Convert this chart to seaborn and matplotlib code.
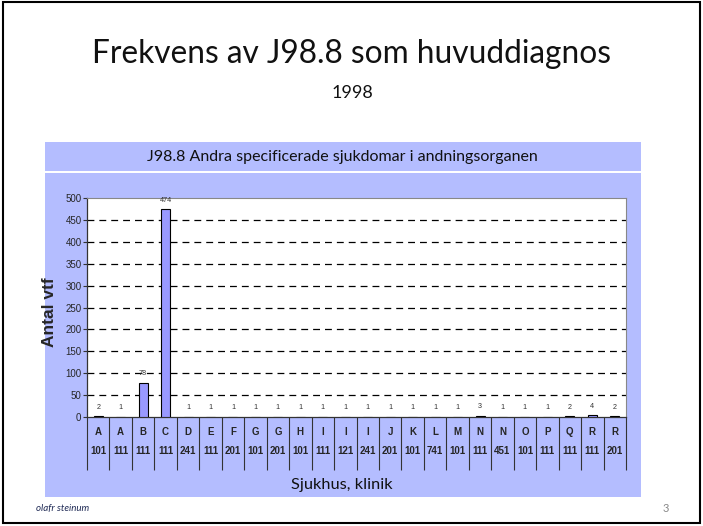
import pandas as pd
import matplotlib.pyplot as plt
import seaborn as sns
from matplotlib.patches import Rectangle

# Data
letters = ['A', 'A', 'B', 'C', 'D', 'E', 'F', 'G', 'G', 'H', 'I', 'I', 'I',
           'J', 'K', 'L', 'M', 'N', 'N', 'O', 'P', 'Q', 'R', 'R']
codes = ['101', '111', '111', '111', '241', '111', '201', '101', '201', '101',
         '111', '121', '241', '201', '101', '741', '101', '111', '451', '101',
         '111', '111', '111', '201']
counts = [2, 1, 78, 474, 1, 1, 1, 1, 1, 1, 1, 1, 1, 1, 1, 1, 1, 3, 1, 1, 1, 2, 4, 2]

df = pd.DataFrame({'klinik': [l + ' ' + c for l, c in zip(letters, codes)],
                   'antal': counts})

sns.set_theme(style="white")
plt.rcParams['font.family'] = ['Liberation Sans', 'DejaVu Sans']

W, H = 703, 526
fig = plt.figure(figsize=(W / 100, H / 100), dpi=100)
fig.patch.set_facecolor('white')

panel = '#B4BDFF'


def box(x0, y0, x1, y1, **kw):
    fig.add_artist(Rectangle((x0 / W, 1 - y1 / H), (x1 - x0) / W, (y1 - y0) / H,
                             transform=fig.transFigure, zorder=-5, **kw))


# slide frame and chart panel
box(3, 2, 700, 523, facecolor='none', edgecolor='black', linewidth=1.5)
box(45, 142, 641, 171, facecolor=panel, edgecolor='none')
box(45, 173, 641, 497, facecolor=panel, edgecolor='none')

# slide texts
fig.text(352 / W, 1 - 54 / H, 'Frekvens av J98.8 som huvuddiagnos', ha='center', va='center',
         fontsize=22.8, family='Lato', color='#111111')
fig.text(352 / W, 1 - 93 / H, '1998', ha='center', va='center', fontsize=13,
         family='Lato', color='#111111')
fig.text(342 / W, 1 - 157 / H, 'J98.8 Andra specificerade sjukdomar i andningsorganen',
         ha='center', va='center', fontsize=11.5, family='Lato', color='#111111')
fig.text(342 / W, 1 - 485 / H, 'Sjukhus, klinik', ha='center', va='center',
         fontsize=11.8, family='Lato', color='#111111')
fig.text(36 / W, 1 - 508 / H, 'olafr steinum', ha='left', va='center', fontsize=7,
         style='italic', family='Lato', color='#1F2A55')
fig.text(666 / W, 1 - 508 / H, '3', ha='center', va='center', fontsize=8,
         family='Lato', color='#888888')

# plot area
x0, x1, ytop, ybot = 87, 626, 198, 417
ax = fig.add_axes([x0 / W, 1 - ybot / H, (x1 - x0) / W, (ybot - ytop) / H])
ax.set_zorder(5)
ax.set_facecolor('white')

sns.barplot(data=df, x='klinik', y='antal', color='#9999FF', edgecolor='black',
            linewidth=0.8, width=0.4, saturation=1, ax=ax, zorder=3)

ax.set_xlim(-0.5, len(counts) - 0.5)
ax.set_ylim(0, 500)
ax.set_yticks(range(0, 501, 50))
ax.tick_params(axis='y', labelsize=7, length=3, width=0.8, color='#333333', pad=1,
               left=True)
for y in range(50, 451, 50):
    ax.axhline(y, color='black', linestyle=(0, (5.5, 4)), linewidth=0.9, zorder=1)

for i, v in enumerate(counts):
    ax.annotate(str(v), (i, v), xytext=(0, 6.5), textcoords='offset points',
                ha='center', va='center', fontsize=5.2, color='#333333')

# category table under the axis
ax.set_xticks([])
ax.set_xticks([i - 0.5 for i in range(len(counts) + 1)], minor=True)
ax.tick_params(axis='x', which='minor', bottom=True, length=38, width=0.8,
               color='#333333', direction='out')
for i, (l, c) in enumerate(zip(letters, codes)):
    ax.text(i, -0.068, l, transform=ax.get_xaxis_transform(), ha='center', va='center',
            fontsize=7, fontweight='bold')
    ax.text(i, -0.155, c, transform=ax.get_xaxis_transform(), ha='center', va='center',
            fontsize=7, fontweight='bold')

ax.set_xlabel('')
ax.set_ylabel('Antal vtf', fontsize=12.5, fontweight='bold')
ax.yaxis.set_label_coords(-0.055, 0.48)
for side in ['top', 'right']:
    ax.spines[side].set_color('#888888')
    ax.spines[side].set_linewidth(0.8)
for side in ['left', 'bottom']:
    ax.spines[side].set_color('#333333')
    ax.spines[side].set_linewidth(0.9)

plt.savefig('out.png', dpi=100)
